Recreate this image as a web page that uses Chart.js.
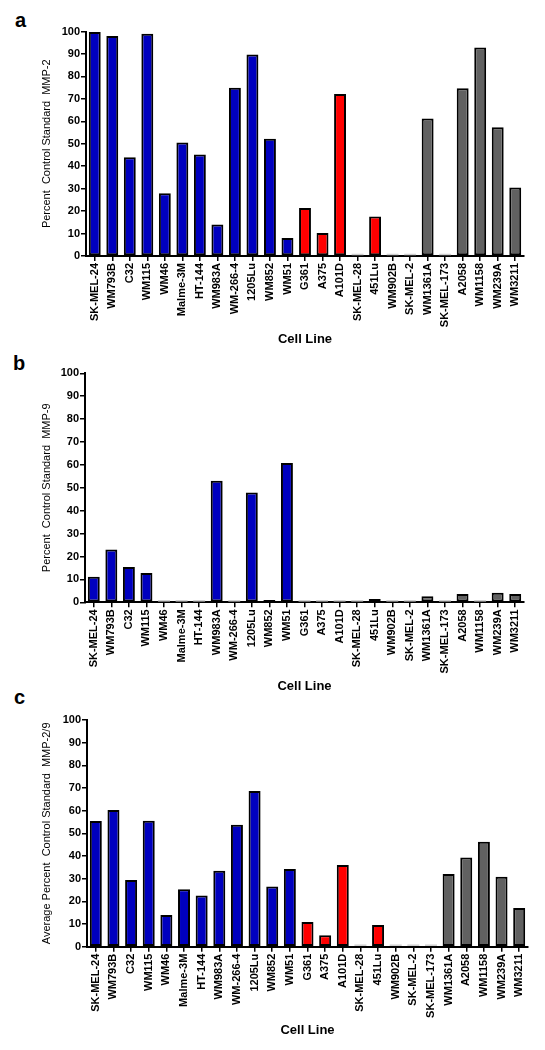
<!DOCTYPE html>
<html><head><meta charset="utf-8">
<script src="https://cdn.jsdelivr.net/npm/chart.js@4.4.1/dist/chart.umd.min.js"></script>
<style>
html,body{margin:0;padding:0;background:#fff;}
body{width:545px;height:1050px;position:relative;overflow:hidden;font-family:'Liberation Sans',Arial,sans-serif;}
canvas{position:absolute;left:0;}
.lbl{position:absolute;font-weight:bold;font-size:20px;line-height:20px;color:#000;font-family:'Liberation Sans',Arial,sans-serif;}
</style></head><body>
<div class="lbl" style="left:15px;top:10px">a</div>
<div class="lbl" style="left:13px;top:353px">b</div>
<div class="lbl" style="left:14px;top:687px">c</div>
<canvas id="ca" width="545" height="350" style="top:0px"></canvas>
<canvas id="cb" width="545" height="350" style="top:350px"></canvas>
<canvas id="cc" width="545" height="350" style="top:700px"></canvas>
<script>
// ---- data ----
const cellLinesAB = ["SK-MEL-24","WM793B","C32","WM115","WM46","Malme-3M","HT-144","WM983A","WM-266-4","1205Lu","WM852","WM51","G361","A375","A101D","SK-MEL-28","451Lu","WM902B","SK-MEL-2","WM1361A","SK-MEL-173","A2058","WM1158","WM239A","WM3211"];
const cellLinesC = ["SK-MEL-24","WM793B","C32","WM115","WM46","Malme-3M","HT-144","WM983A","WM-266-4","1205Lu","WM852","WM51","G361","A375","A101D","SK-MEL-28","451Lu","WM902B","SK-MEL-2","SK-MEL-173","WM1361A","A2058","WM1158","WM239A","WM3211"];
const mmp2Values = [99.8,98.0,44.0,99.0,28.0,50.6,45.2,14.0,75.0,89.7,52.2,8.0,21.4,10.3,72.2,0,17.6,0,0,61.3,0,74.7,92.9,57.3,30.5];
const mmp9Values = [11.2,23.1,15.4,12.8,0,0,0,53.1,0,47.9,1.0,60.8,0,0,0,0,1.4,0,0,2.6,0,3.6,0,4.2,3.6];
const mmp29Values = [55.4,60.3,29.4,55.6,14.0,25.3,22.6,33.5,53.8,68.7,26.5,34.3,10.9,5.0,36.0,0,9.6,0,0,0,32.1,39.3,46.3,30.9,17.1];
const groupsAB = ["blue","blue","blue","blue","blue","blue","blue","blue","blue","blue","blue","blue","red","red","red","red","red","red","red","grey","grey","grey","grey","grey","grey"];
const groupsC = ["blue","blue","blue","blue","blue","blue","blue","blue","blue","blue","blue","blue","red","red","red","red","red","red","red","red","grey","grey","grey","grey","grey"];
const yTickValues = [0,10,20,30,40,50,60,70,80,90,100];
const xTitle = "Cell Line";
const yTitles = ["Percent  Control Standard  MMP-2","Percent  Control Standard  MMP-9","Average Percent  Control Standard  MMP-2/9"];

// ---- styles ----
const palette = {blue:"#0000BF", red:"#FF0000", grey:"#616161"};
const FONT = "'Liberation Sans', Arial, sans-serif";
Chart.defaults.font.family = FONT;
Chart.defaults.color = "#000";

// faint baseline marks for zero-valued bars (as in the reference)
const zeroMarks = {
  id: 'zeroMarks',
  afterDatasetsDraw(chart) {
    const ctx = chart.ctx;
    const meta = chart.getDatasetMeta(0);
    const vals = chart.data.datasets[0].data;
    ctx.save();
    ctx.strokeStyle = '#cfcfcf';
    ctx.lineWidth = 1.5;
    meta.data.forEach((el, i) => {
      if (vals[i] === 0) {
        const w = el.width;
        ctx.beginPath();
        ctx.moveTo(el.x - w / 2, el.base - 1.5);
        ctx.lineTo(el.x + w / 2, el.base - 1.5);
        ctx.stroke();
      }
    });
    ctx.restore();
  }
};

function makePanel(id, labels, values, groups, yTitle, g){
  new Chart(document.getElementById(id), {
    type: 'bar',
    data: { labels: labels, datasets: [{
      data: values,
      backgroundColor: groups.map(k => palette[k]),
      borderColor: "#000",
      borderWidth: 2,
      borderSkipped: false,
      barPercentage: 0.68,
      categoryPercentage: 1.0
    }]},
    plugins: [zeroMarks],
    options: {
      responsive: false, animation: false, devicePixelRatio: 1,
      layout: { padding: { top: g.padTop, left: g.padLeft, right: g.padRight, bottom: 0 } },
      plugins: { legend: {display:false}, tooltip: {enabled:false} },
      scales: {
        x: {
          offset: true,
          grid: { display: true, drawOnChartArea: false, drawTicks: true, tickLength: 5, offset: false, color: "#000", lineWidth: 1.5 },
          border: { display: true, color: "#000", width: 2 },
          ticks: { autoSkip: false, maxRotation: 90, minRotation: 90, padding: 2, font: { size: 11, weight: 'bold' }, color: "#000" },
          title: { display: true, text: xTitle, font: { size: 13, weight: 'bold' }, color: "#000", padding: { top: 0, bottom: g.xTitlePad } },
          afterFit: s => { s.height = g.xHeight; }
        },
        y: {
          min: 0, max: 100,
          afterBuildTicks: s => { s.ticks = yTickValues.map(v => ({value: v})); },
          grid: { display: true, drawOnChartArea: false, drawTicks: true, tickLength: 5, color: "#000", lineWidth: 1.5 },
          border: { display: true, color: "#000", width: 2 },
          ticks: { padding: 1, font: { size: 11, weight: 'bold' }, color: "#000" },
          title: { display: true, text: yTitle, font: { size: 11 }, color: "#000", padding: { top: g.yTitlePad, bottom: 0 } },
          afterFit: s => { s.width = g.yWidth; }
        }
      }
    }
  });
}

makePanel('ca', cellLinesAB, mmp2Values, groupsAB, yTitles[0],
  {padTop: 31.5, padLeft: 30, padRight: 21, yWidth: 56, xHeight: 94, xTitlePad: 3, yTitlePad: 10});
makePanel('cb', cellLinesAB, mmp9Values, groupsAB, yTitles[1],
  {padTop: 23.3, padLeft: 30, padRight: 21, yWidth: 55, xHeight: 97.7, xTitlePad: 5.5, yTitlePad: 10});
makePanel('cc', cellLinesC, mmp29Values, groupsC, yTitles[2],
  {padTop: 20, padLeft: 30, padRight: 17, yWidth: 57, xHeight: 103.3, xTitlePad: 12.2, yTitlePad: 10});
</script>
</body></html>
